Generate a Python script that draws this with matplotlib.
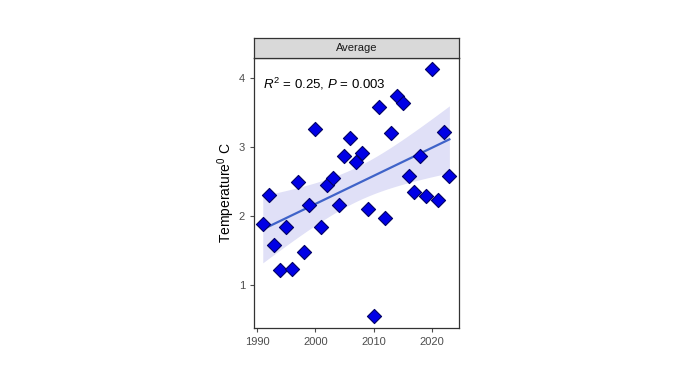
import numpy as np
import matplotlib
matplotlib.use("Agg")
import matplotlib.pyplot as plt

plt.rcParams["font.family"] = ["Liberation Sans", "DejaVu Sans"]
plt.rcParams["mathtext.fontset"] = "custom"
plt.rcParams["mathtext.rm"] = "Liberation Sans"
plt.rcParams["mathtext.it"] = "Liberation Sans:italic"

years = np.arange(1991, 2024)
temps = [1.89, 2.31, 1.59, 1.22, 1.85, 1.23, 2.49, 1.49, 2.16, 3.26,
         1.85, 2.46, 2.55, 2.17, 2.87, 3.13, 2.78, 2.92, 2.11, 0.55,
         3.58, 1.97, 3.20, 3.75, 3.64, 2.58, 2.35, 2.88, 2.30, 4.13,
         2.23, 3.22, 2.58]
panel_title = "Average"
stat_label = r"$R^2$ = 0.25, $P$ = 0.003"

x = years.astype(float)
y = np.array(temps)

# linear fit + 95% CI of the mean (like geom_smooth(method="lm"))
n = len(x)
b, a = np.polyfit(x, y, 1)
resid = y - (a + b * x)
s = np.sqrt(np.sum(resid**2) / (n - 2))
xs = np.linspace(x.min(), x.max(), 80)
ys = a + b * xs
se = s * np.sqrt(1 / n + (xs - x.mean())**2 / np.sum((x - x.mean())**2))
tval = 2.04
lo, hi = ys - tval * se, ys + tval * se

fig = plt.figure(figsize=(6.8, 3.8), dpi=100)
ax = fig.add_axes([0.3735, 0.1376, 0.3015, 0.7098])

ax.fill_between(xs, lo, hi, color="#e0e0f7", lw=0, zorder=1)
ax.plot(xs, ys, color="#3f63c9", lw=1.6, zorder=2)
ax.scatter(x, y, marker="D", s=52, facecolor="#0000e6", edgecolor="#000066",
           linewidth=0.8, zorder=3)

ax.set_xlim(1989.49, 2024.65)
ax.set_ylim(0.386, 4.294)
ax.set_xticks([1990, 2000, 2010, 2020])
ax.set_yticks([1, 2, 3, 4])
ax.tick_params(labelsize=8, colors="#4d4d4d", length=3, width=0.8)
for sp in ax.spines.values():
    sp.set_color("#333333")
    sp.set_linewidth(0.9)

ax.set_ylabel(r"Temperature$^{0}$ C", fontsize=10, color="black", labelpad=1)
ax.text(1991.1, 3.92, stat_label, fontsize=9.5, va="center", ha="left")

# facet strip
strip = fig.add_axes([0.3735, 0.8474, 0.3015, 0.0526])
strip.set_facecolor("#d9d9d9")
strip.set_xticks([])
strip.set_yticks([])
for sp in strip.spines.values():
    sp.set_color("#333333")
    sp.set_linewidth(0.9)
strip.text(0.5, 0.5, panel_title, ha="center", va="center", fontsize=8,
           color="#1a1a1a", transform=strip.transAxes)

fig.savefig("out.png", dpi=100)
